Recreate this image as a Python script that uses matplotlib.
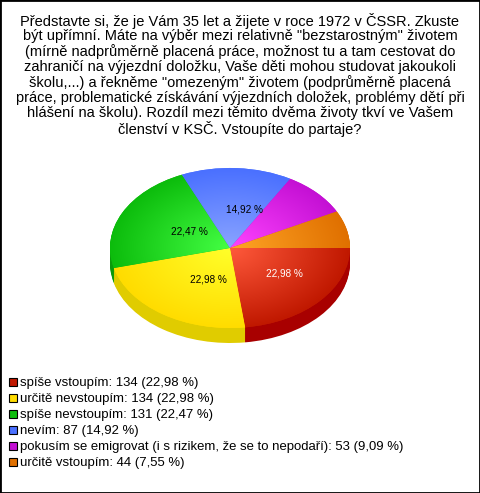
import numpy as np
from matplotlib import pyplot as plt
from matplotlib.colors import LinearSegmentedColormap
from matplotlib.patches import Rectangle

title_lines = ['Představte si, že je Vám 35 let a žijete v roce 1972 v ČSSR. Zkuste',
               'být upřímní. Máte na výběr mezi relativně "bezstarostným" životem',
               '(mírně nadprůměrně placená práce, možnost tu a tam cestovat do',
               'zahraničí na výjezdní doložku, Vaše děti mohou studovat jakoukoli',
               'školu,...) a řekněme "omezeným" životem (podprůměrně placená',
               'práce, problematické získávání výjezdních doložek, problémy dětí při',
               'hlášení na školu). Rozdíl mezi těmito dvěma životy tkví ve Vašem',
               'členství v KSČ. Vstoupíte do partaje?']
names = ['spíše vstoupím', 'určitě nevstoupím', 'spíše nevstoupím', 'nevím',
         'pokusím se emigrovat (i s rizikem, že se to nepodaří)', 'určitě vstoupím']
counts = [134, 134, 131, 87, 53, 44]
percents = ['22,98', '22,98', '22,47', '14,92', '9,09', '7,55']
inner_colors = ['#ff5a3c', '#ffff2a', '#44ff44', '#8aa4ff', '#ff44ff', '#ffa526']
outer_colors = ['#c01800', '#ffdc00', '#0cbc0c', '#4a70ff', '#c410d4', '#e07000']
side_colors = ['#a80000', '#e0cc00', '#0a9a0a', '#3355cc', '#9a10a8', '#b85a00']
label_colors = ['white', 'black', 'black', 'black', 'black', 'black']
show_label = [True, True, True, True, False, False]

W, H = 480, 493
CX, CY = 230, 248
RX, RY = 120, 80
DEPTH = 15

plt.rcParams['font.family'] = ['Liberation Sans', 'DejaVu Sans']

fig = plt.figure(figsize=(W / 100, H / 100), dpi=100)
ax = fig.add_axes([0, 0, 1, 1])

# extruded side first, stacked one pixel at a time
for d in range(DEPTH, 0, -1):
    ax.pie(counts, startangle=0, counterclock=False, colors=side_colors,
           center=(0, -d / RY), frame=True)
wedges, _ = ax.pie(counts, startangle=0, counterclock=False, colors=outer_colors, frame=True)

xlim = (-CX / RX, (W - CX) / RX)
ylim = ((CY - H) / RY, CY / RY)

# radial gradient on each slice, light at the centre
xx, yy = np.meshgrid(np.linspace(-1, 1, 300), np.linspace(-1, 1, 300))
rr = np.clip(np.sqrt(xx ** 2 + yy ** 2), 0, 1)
for w, c0, c1 in zip(wedges, inner_colors, outer_colors):
    cmap = LinearSegmentedColormap.from_list('s', [c0, c1])
    im = ax.imshow(rr, extent=(-1, 1, -1, 1), origin='lower', cmap=cmap, vmin=0, vmax=1,
                   aspect='auto', zorder=3, interpolation='bilinear')
    im.set_clip_path(w)

ax.set_aspect('auto')
ax.set_xlim(*xlim)
ax.set_ylim(*ylim)
ax.axis('off')

# percent labels inside the slices
angle = 0
total = sum(counts)
for c, p, col, show in zip(counts, percents, label_colors, show_label):
    mid = np.radians(angle + c / total * 180)
    angle += c / total * 360
    if show:
        ax.text(0.48 * np.cos(mid) + 0.09, -0.48 * np.sin(mid), p + ' %', color=col, fontsize=7.2,
                ha='center', va='center', zorder=5)


def px(x, y):
    return x / W, 1 - y / H


# question on top
for i, line in enumerate(title_lines):
    fig.text(*px(240, 21 + i * 15.4), line, fontsize=10.55, ha='center', va='center')

# legend below
for i, (n, c, p, col) in enumerate(zip(names, counts, percents, outer_colors)):
    y = 382 + i * 16
    fig.add_artist(Rectangle(px(9, y + 4), 8 / W, 8 / H, facecolor=col, edgecolor='black',
                             linewidth=0.8, transform=fig.transFigure))
    fig.text(*px(20, y + 1), '{}: {} ({} %)'.format(n, c, p), fontsize=9.45, ha='left', va='center')

# thin black frame
fig.add_artist(Rectangle((0, 0), 1, 1, fill=False, edgecolor='black', linewidth=2,
                         transform=fig.transFigure))

fig.savefig('out.png', dpi=100)
